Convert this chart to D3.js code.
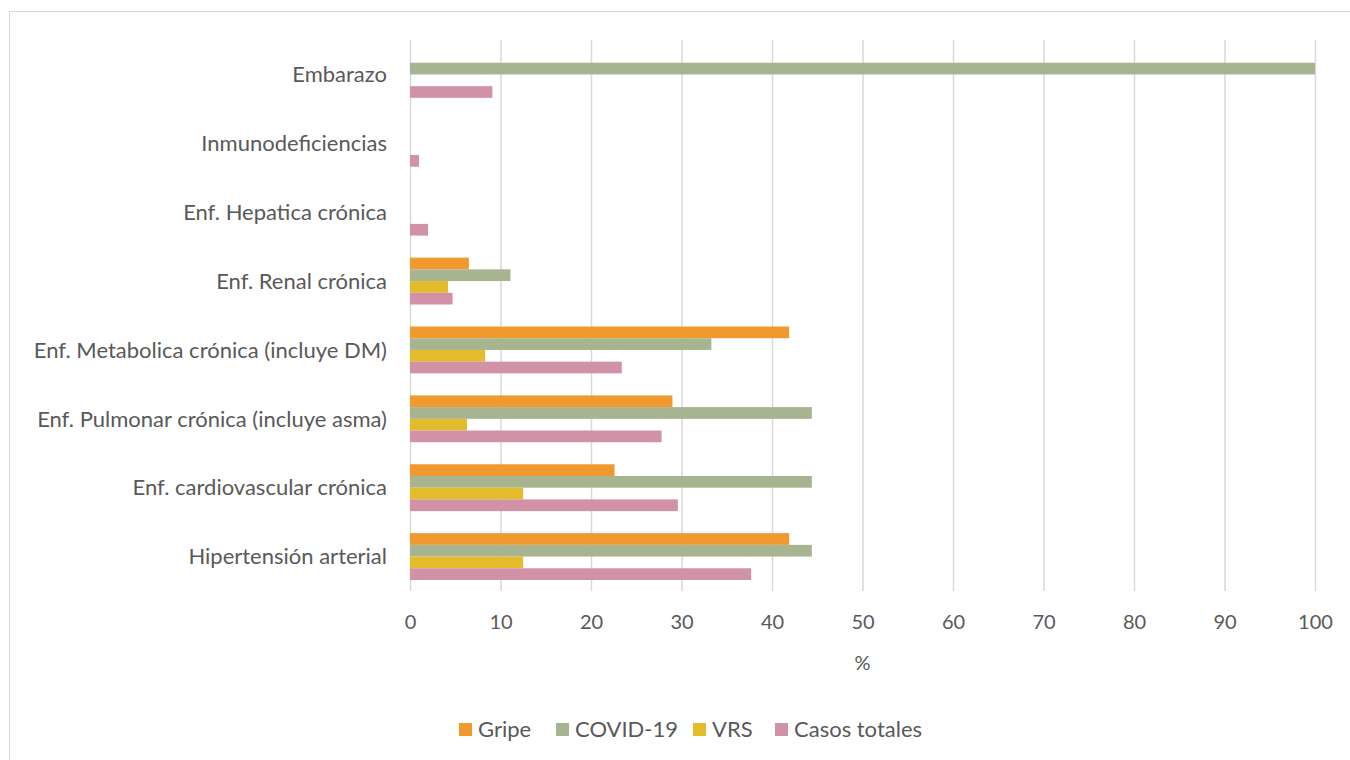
<!DOCTYPE html>
<html>
<head>
<meta charset="utf-8">
<script src="https://cdn.jsdelivr.net/npm/d3@7"></script>
<style>
  html, body { margin: 0; padding: 0; background: #fff; }
  svg { display: block; }
  text { font-family: Lato, "Open Sans", sans-serif; fill: #595959; }
</style>
</head>
<body>
<svg id="chart" width="1350" height="760"></svg>
<script>
// Comorbidities, top to bottom
const categories = [
  "Embarazo",
  "Inmunodeficiencias",
  "Enf. Hepatica crónica",
  "Enf. Renal crónica",
  "Enf. Metabolica crónica (incluye DM)",
  "Enf. Pulmonar crónica (incluye asma)",
  "Enf. cardiovascular crónica",
  "Hipertensión arterial"
];

const seriesNames = ["Gripe", "COVID-19", "VRS", "Casos totales"];
const seriesColors = ["#F0992F", "#A6B48F", "#E4BB2B", "#D191A7"];

// Percentages per series, in the same order as categories
const gripe        = [0, 0, 0, 6.5, 41.9, 29.0, 22.6, 41.9];
const covid19      = [100, 0, 0, 11.1, 33.3, 44.4, 44.4, 44.4];
const vrs          = [0, 0, 0, 4.2, 8.3, 6.3, 12.5, 12.5];
const casosTotales = [9.1, 1.0, 2.0, 4.7, 23.4, 27.8, 29.6, 37.7];

const xTicks = [0, 10, 20, 30, 40, 50, 60, 70, 80, 90, 100];
const xTitle = "%";

const seriesValues = [gripe, covid19, vrs, casosTotales];

const svg = d3.select("#chart");

// Outer chart frame
svg.append("rect")
  .attr("x", 9.5).attr("y", 11.5)
  .attr("width", 1400).attr("height", 800)
  .attr("fill", "none").attr("stroke", "#d9d9d9").attr("stroke-width", 1);

const plot = { left: 410, right: 1315, top: 40, bottom: 591 };

const x = d3.scaleLinear().domain([0, 100]).range([plot.left, plot.right]);
const y0 = d3.scaleBand().domain(categories).range([plot.top, plot.bottom]);
const y1 = d3.scaleBand().domain(seriesNames)
  .range([y0.bandwidth() * 0.16, y0.bandwidth() * 0.84]);

// Vertical gridlines
svg.append("g")
  .attr("transform", `translate(0,${plot.bottom})`)
  .call(d3.axisBottom(x).tickValues(xTicks).tickSize(-(plot.bottom - plot.top)).tickFormat(""))
  .call(g => g.select(".domain").remove())
  .call(g => g.selectAll(".tick line").attr("stroke", "#d9d9d9").attr("stroke-width", 1.5));

// Bars
const groups = svg.append("g").selectAll("g")
  .data(categories)
  .join("g")
  .attr("transform", d => `translate(0,${y0(d)})`);

groups.selectAll("rect")
  .data((c, ci) => seriesNames.map((s, si) => ({ s, si, v: seriesValues[si][ci] })))
  .join("rect")
  .attr("x", x(0))
  .attr("y", d => y1(d.s))
  .attr("width", d => x(d.v) - x(0))
  .attr("height", y1.bandwidth())
  .attr("fill", d => seriesColors[d.si]);

// Category labels
svg.append("g")
  .attr("transform", `translate(${plot.left},0)`)
  .call(d3.axisLeft(y0).tickSize(0).tickPadding(23))
  .call(g => g.select(".domain").remove())
  .call(g => g.selectAll("text")
    .style("font-size", "22px")
    .attr("fill", "#595959")
    .attr("dy", "0.35em"));

// X tick labels
svg.append("g")
  .attr("transform", `translate(0,${plot.bottom})`)
  .call(d3.axisBottom(x).tickValues(xTicks).tickSize(0).tickPadding(24))
  .call(g => g.select(".domain").remove())
  .call(g => g.selectAll("text")
    .style("font-size", "20px")
    .attr("fill", "#595959"));

// Axis title
svg.append("text")
  .attr("x", (plot.left + plot.right) / 2)
  .attr("y", 670)
  .attr("text-anchor", "middle")
  .style("font-size", "20px")
  .text(xTitle);

// Legend
const legendX = [459, 556, 693, 775];
const legend = svg.append("g").selectAll("g")
  .data(seriesNames)
  .join("g")
  .attr("transform", (d, i) => `translate(${legendX[i]},723)`);
legend.append("rect")
  .attr("width", 13).attr("height", 13)
  .attr("fill", (d, i) => seriesColors[i]);
legend.append("text")
  .attr("x", 19).attr("y", 6.5).attr("dy", "0.35em")
  .style("font-size", "22px")
  .text(d => d);
</script>
</body>
</html>
